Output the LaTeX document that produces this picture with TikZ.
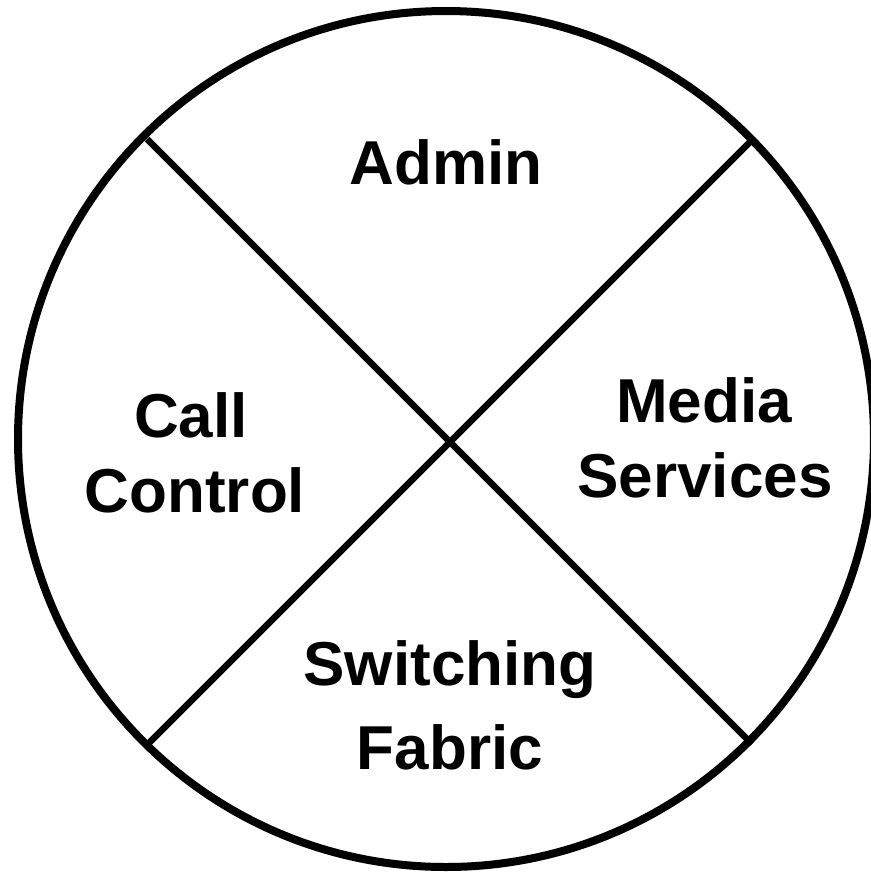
\documentclass[tikz,border=0pt]{standalone}
\usepackage{fontspec}
\setmainfont{Liberation Sans}
\usepackage{tikz}
\tikzset{label text/.style = {font=\fontsize{31}{37}\selectfont\bfseries,
                              inner sep=0pt, anchor=base}}

\begin{document}
\begin{tikzpicture}[x=0.5pt, y=-0.5pt]
      \useasboundingbox (0, 0) rectangle (871, 875);
      \coordinate (c) at (446, 439);
      \coordinate (nw) at (147, 139);
      \coordinate (se) at (752, 744);
      \coordinate (ne) at (753, 139);
      \coordinate (sw) at (147, 745);
      \draw [line width=4pt] (c) circle [radius=214pt];
      \draw [line width=3.3pt] (nw) -- (se);
      \draw [line width=3.3pt] (ne) -- (sw);
      \node [label text] (admin) at (446, 184) {Admin};
      \node [label text] (call) at (191, 437) {Call};
      \node [label text] (control) at (195, 512) {Control};
      \node [label text] (media) at (704, 422) {Media};
      \node [label text] (services) at (705, 497) {Services};
      \node [label text] (switching) at (450, 685) {Switching};
      \node [label text] (fabric) at (450, 769) {Fabric};
    \end{tikzpicture}
\end{document}
